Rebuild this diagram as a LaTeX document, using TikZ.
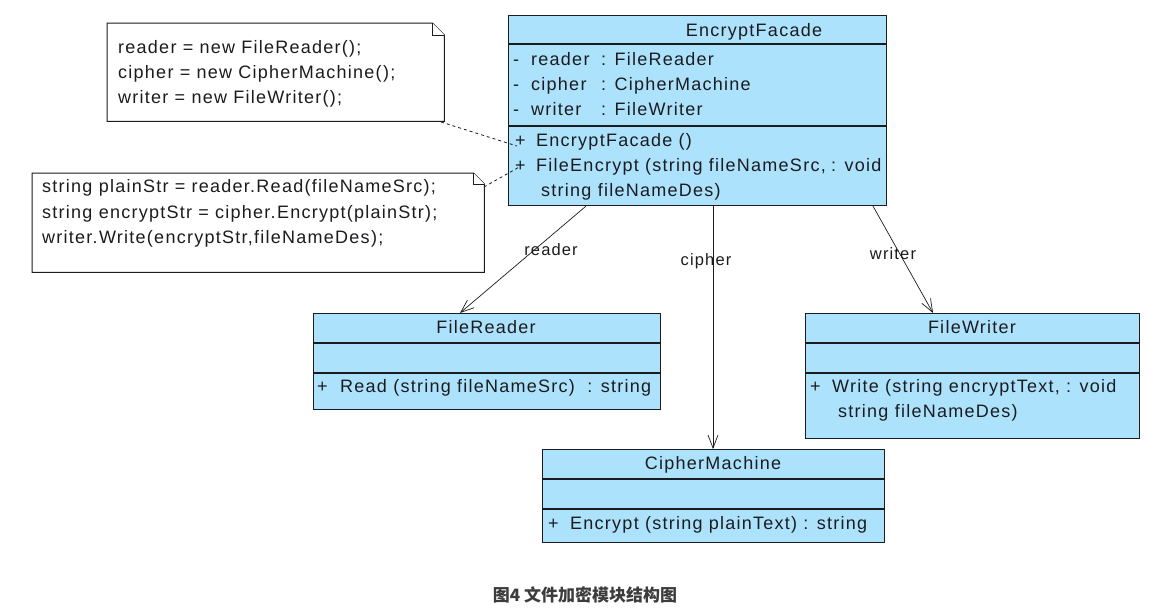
\documentclass[tikz,border=0pt]{standalone}
\usepackage{fontspec}
\setmainfont{Liberation Sans}[LetterSpace=7]
\newfontfamily\cjk{Noto Sans CJK SC}
\usetikzlibrary{arrows.meta,calc}
\definecolor{classfill}{RGB}{172,226,251}
\definecolor{ink}{RGB}{28,28,32}
\definecolor{captiongray}{RGB}{60,60,60}
\begin{document}
\begin{tikzpicture}[x=1pt,y=-1pt,
  every node/.style={font=\fontsize{18}{20}\selectfont, text=ink, inner sep=0pt},
  cls/.style={draw=ink, line width=1.1pt, fill=classfill, anchor=north west, inner sep=0pt},
  sep/.style={draw=ink, line width=1.1pt},
  txt/.style={anchor=base west},
  ttl/.style={anchor=base},
  notebox/.style={anchor=north west, inner sep=0pt},
  noteline/.style={draw=ink, line width=1pt, fill=white},
  assoc/.style={draw=ink, line width=0.7pt, -{Straight Barb[length=13pt, width=10pt, line width=0.7pt]}},
  notelink/.style={draw=ink, line width=0.8pt, dash pattern=on 3pt off 3pt},
  lbl/.style={font=\fontsize{16.5}{18}\selectfont}
]
\useasboundingbox (0,0) rectangle (1172,614);
\fill[white] (0,0) rectangle (1172,614);

% ---------- EncryptFacade ----------
\node[cls, minimum width=378pt, minimum height=190pt] (ef) at (508,15) {};
\draw[sep] ($(ef.north west)+(0,29)$) -- ($(ef.north east)+(0,29)$);
\draw[sep] ($(ef.north west)+(0,111)$) -- ($(ef.north east)+(0,111)$);
\node[ttl] (ef-t) at (754,36) {EncryptFacade};
\node[txt] (ef-a1m) at (513,65) {-};
\node[txt] (ef-a1n) at (531,65) {reader};
\node[txt] (ef-a1t) at (601,65) {: FileReader};
\node[txt] (ef-a2m) at (513,90) {-};
\node[txt] (ef-a2n) at (531,90) {cipher};
\node[txt] (ef-a2t) at (601,90) {: CipherMachine};
\node[txt] (ef-a3m) at (513,115) {-};
\node[txt] (ef-a3n) at (531,115) {writer};
\node[txt] (ef-a3t) at (601,115) {: FileWriter};
\node[txt] (ef-m1p) at (515,146) {+};
\node[txt] (ef-m1) at (536,146) {EncryptFacade ()};
\node[txt] (ef-m2p) at (515,171) {+};
\node[txt] (ef-m2) at (536,171) {FileEncrypt (string fileNameSrc,};
\node[txt] (ef-m2r) at (831,171) {: void};
\node[txt] (ef-m2b) at (541,196) {string fileNameDes)};

% ---------- FileReader ----------
\node[cls, minimum width=347pt, minimum height=96pt] (fr) at (313,313) {};
\draw[sep] ($(fr.north west)+(0,30)$) -- ($(fr.north east)+(0,30)$);
\draw[sep] ($(fr.north west)+(0,60)$) -- ($(fr.north east)+(0,60)$);
\node[ttl] (fr-t) at (486,333) {FileReader};
\node[txt] (fr-mp) at (317,392) {+};
\node[txt] (fr-m) at (340,392) {Read (string fileNameSrc)\ \ : string};

% ---------- FileWriter ----------
\node[cls, minimum width=334pt, minimum height=125pt] (fw) at (805,313) {};
\draw[sep] ($(fw.north west)+(0,30)$) -- ($(fw.north east)+(0,30)$);
\draw[sep] ($(fw.north west)+(0,60)$) -- ($(fw.north east)+(0,60)$);
\node[ttl] (fw-t) at (972,333) {FileWriter};
\node[txt] (fw-mp) at (810,392) {+};
\node[txt] (fw-m) at (832,392) {Write (string encryptText, : void};
\node[txt] (fw-mb) at (838,417) {string fileNameDes)};

% ---------- CipherMachine ----------
\node[cls, minimum width=342pt, minimum height=93pt] (cm) at (542,449) {};
\draw[sep] ($(cm.north west)+(0,30)$) -- ($(cm.north east)+(0,30)$);
\draw[sep] ($(cm.north west)+(0,60)$) -- ($(cm.north east)+(0,60)$);
\node[ttl] (cm-t) at (713,469) {CipherMachine};
\node[txt] (cm-mp) at (548,529) {+};
\node[txt] (cm-m) at (570,529) {Encrypt (string plainText) : string};

% ---------- Notes ----------
\node[notebox, minimum width=337pt, minimum height=98pt] (n1) at (107,23) {};
\draw[noteline] (n1.north west) -- ($(n1.north east)+(-12,0)$) -- ($(n1.north east)+(0,12)$)
  -- (n1.south east) -- (n1.south west) -- cycle;
\draw[noteline] ($(n1.north east)+(-12,0)$) -- ($(n1.north east)+(-12,12)$) -- ($(n1.north east)+(0,12)$);
\node[txt] (n1-l1) at (118,53) {reader = new FileReader();};
\node[txt] (n1-l2) at (118,78) {cipher = new CipherMachine();};
\node[txt] (n1-l3) at (118,103) {writer = new FileWriter();};

\node[notebox, minimum width=452pt, minimum height=99pt] (n2) at (32,173) {};
\draw[noteline] (n2.north west) -- ($(n2.north east)+(-11,0)$) -- ($(n2.north east)+(0,11)$)
  -- (n2.south east) -- (n2.south west) -- cycle;
\draw[noteline] ($(n2.north east)+(-11,0)$) -- ($(n2.north east)+(-11,11)$) -- ($(n2.north east)+(0,11)$);
\node[txt] (n2-l1) at (42,192) {string plainStr = reader.Read(fileNameSrc);};
\node[txt] (n2-l2) at (42,218) {string encryptStr = cipher.Encrypt(plainStr);};
\node[txt] (n2-l3) at (42,243) {writer.Write(encryptStr,fileNameDes);};

% note links
\coordinate (n1-end) at (441,122);
\coordinate (ef-init) at (517,146);
\coordinate (n2-end) at (484,187);
\coordinate (ef-enc) at (521,166);
\draw[notelink] (n1-end) -- (ef-init);
\draw[notelink] (n2-end) -- (ef-enc);

% ---------- Associations ----------
\draw[assoc] ($(ef.south west)+(78,0)$) -- ($(fr.north west)+(147,0)$);
\draw[assoc] ($(ef.south west)+(205,0)$) -- ($(cm.north west)+(171,0)$);
\draw[assoc] ($(ef.south west)+(365,0)$) -- ($(fw.north west)+(128,0)$);
\node[lbl] (l-reader) at (551,250) {reader};
\node[lbl] (l-cipher) at (706,261) {cipher};
\node[lbl] (l-writer) at (893,254) {writer};

% ---------- Caption ----------
\node[font=\cjk\bfseries\fontsize{17}{19}\selectfont, text=captiongray] (cap) at (585,595) {图4 文件加密模块结构图};
\end{tikzpicture}
\end{document}
